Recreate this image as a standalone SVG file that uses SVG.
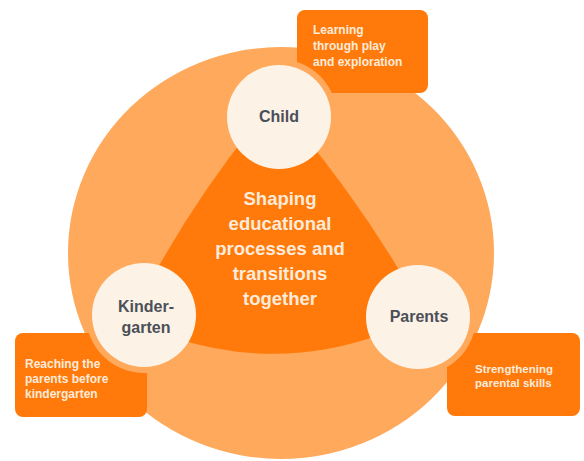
<svg xmlns="http://www.w3.org/2000/svg" width="584" height="461" viewBox="0 0 584 461">
  <style>
    .ring { fill: #FEA95B; }
    .core { fill: #FF7A0A; }
    .box { fill: #FF7A0A; }
    .halo { fill: #FEA95B; }
    .node { fill: #FDF2E6; }
    .lbl { font-family: "Liberation Sans", Arial, sans-serif; font-weight: bold; font-size: 16px; fill: #4B5058; text-anchor: middle; }
    .core-t { font-family: "Liberation Sans", Arial, sans-serif; font-weight: bold; font-size: 18.5px; fill: #FCEBDA; text-anchor: middle; }
    .box-t { font-family: "Liberation Sans", Arial, sans-serif; font-weight: bold; font-size: 12px; fill: #FCEBDA; }
    .box-s { font-size: 11.5px; }
  </style>
  <rect width="584" height="461" fill="#FFFFFF"/>
  <g id="outer-ring">
    <ellipse class="ring" cx="281" cy="253" rx="213" ry="206"/>
  </g>
  <g id="box-learning">
    <rect class="box" x="297" y="10" width="131" height="83" rx="8"/>
    <text class="box-t" x="313" y="34">Learning</text>
    <text class="box-t" x="313" y="50">through play</text>
    <text class="box-t" x="313" y="66">and exploration</text>
  </g>
  <g id="box-reaching">
    <rect class="box" x="15" y="333" width="132" height="84" rx="8"/>
    <text class="box-t" x="25" y="368">Reaching the</text>
    <text class="box-t" x="25" y="383">parents before</text>
    <text class="box-t" x="25" y="398">kindergarten</text>
  </g>
  <g id="box-strengthening">
    <rect class="box" x="447" y="333" width="133" height="83" rx="8"/>
    <text class="box-t box-s" x="475" y="373">Strengthening</text>
    <text class="box-t box-s" x="475" y="387">parental skills</text>
  </g>
  <g id="halos">
    <circle class="halo" cx="279" cy="117" r="58"/>
    <circle class="halo" cx="144" cy="315" r="58"/>
    <circle class="halo" cx="418" cy="317" r="58"/>
  </g>
  <g id="center">
    <path class="core" d="M 252,128 Q 194,201 150,282 L 175,338 Q 280,372 385,333 L 408,285 Q 359.5,202 298,128 Z"/>
    <text class="core-t" x="280" y="205">Shaping</text>
    <text class="core-t" x="280" y="230">educational</text>
    <text class="core-t" x="280" y="255">processes and</text>
    <text class="core-t" x="280" y="280">transitions</text>
    <text class="core-t" x="280" y="305">together</text>
  </g>
  <g id="node-child">
    <circle class="node" cx="279" cy="117" r="52"/>
    <text class="lbl" x="279" y="122">Child</text>
  </g>
  <g id="node-kindergarten">
    <circle class="node" cx="144" cy="315" r="52"/>
    <text class="lbl" x="146" y="312">Kinder-</text>
    <text class="lbl" x="146" y="333">garten</text>
  </g>
  <g id="node-parents">
    <circle class="node" cx="418" cy="317" r="52"/>
    <text class="lbl" x="419" y="322">Parents</text>
  </g>
  <g id="connectors"/>
</svg>
